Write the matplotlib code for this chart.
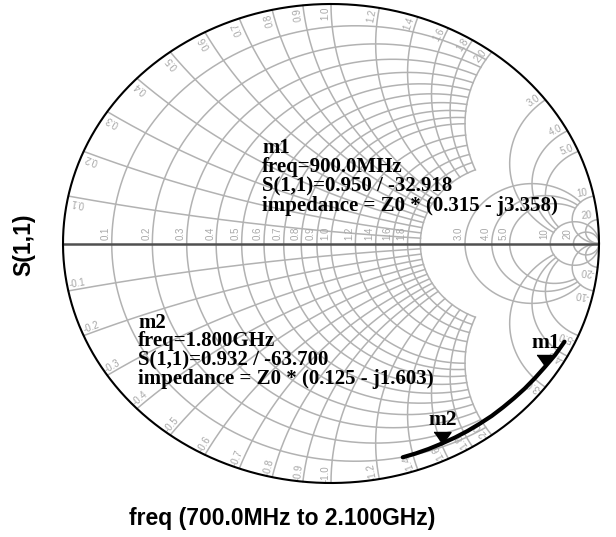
import numpy as np
import matplotlib.pyplot as plt
from matplotlib.transforms import offset_copy

W, H = 616, 537

# S(1,1) sweep, 700 MHz .. 2.1 GHz (magnitude, angle in degrees)
freq_ghz = [0.7, 0.8, 0.9, 1.0, 1.1, 1.2, 1.3, 1.4, 1.5, 1.6, 1.7, 1.8, 1.9, 2.0, 2.1]
s11_mag = [0.963, 0.957, 0.950, 0.946, 0.943, 0.940, 0.938, 0.937, 0.935,
           0.934, 0.933, 0.932, 0.932, 0.932, 0.932]
s11_deg = [-25.2, -29.1, -32.918, -36.5, -40.0, -43.4, -46.8, -50.2, -53.6,
           -57.0, -60.3, -63.7, -67.0, -70.2, -73.3]

# markers
marker_names = ["m1", "m2"]
marker_freq_text = ["900.0MHz", "1.800GHz"]
marker_mag = [0.950, 0.932]
marker_deg = [-32.918, -63.700]
marker_imp = ["0.315 - j3.358", "0.125 - j1.603"]

# smith grid values and the limit up to which each group is drawn
grid_groups = [
    ([0.1, 0.2, 0.3, 0.4, 0.5, 0.6, 0.7, 0.8, 0.9, 1.0], 2.0),
    ([1.2, 1.4, 1.6, 1.8, 2.0], 2.0),
    ([3.0, 4.0, 5.0], 10.0),
    ([10.0, 20.0], np.inf),
]
r_labels = ["0.1", "0.2", "0.3", "0.4", "0.5", "0.6", "0.7", "0.8", "0.9", "1.0",
            "1.2", "1.4", "1.6", "1.8", "", "3.0", "4.0", "5.0", "10", "20"]
x_labels = ["0.1", "0.2", "0.3", "0.4", "0.5", "0.6", "0.7", "0.8", "0.9", "1.0",
            "1.2", "1.4", "1.6", "1.8", "2.0", "3.0", "4.0", "5.0", "10", "20"]

grid_color = "#b2b2b2"
label_color = "#a8a8a8"


def gamma(z):
    return (z - 1) / (z + 1)


def span(limit, n=700):
    if np.isinf(limit):
        return np.tan(np.linspace(0, np.pi / 2 - 1e-4, n))
    return np.linspace(0, limit, n)


fig = plt.figure(figsize=(W / 100, H / 100), dpi=100)
ax = fig.add_axes([63 / W, (H - 483) / H, 536 / W, 479 / H])
ax.set_xlim(-1, 1)
ax.set_ylim(-1, 1)
ax.axis("off")

# grid: resistance circles and reactance arcs
for vals, lim in grid_groups:
    for val in vals:
        xs = span(lim)
        xs = np.concatenate([-xs[::-1], xs[1:]])
        g = gamma(val + 1j * xs)
        ax.plot(g.real, g.imag, color=grid_color, lw=1.1, zorder=1)
        rs = span(lim)
        for sgn in (1, -1):
            g = gamma(rs + 1j * sgn * val)
            ax.plot(g.real, g.imag, color=grid_color, lw=1.1, zorder=1)

# outer rim and real axis
t = np.linspace(0, 2 * np.pi, 600)
ax.plot(np.cos(t), np.sin(t), color="black", lw=1.5, zorder=3, clip_on=False)
ax.plot([-1, 1], [0, 0], color="#505050", lw=1.8, zorder=2)

# labels
all_vals = [v for vals, _ in grid_groups for v in vals]
bbox = ax.get_position()
rx = bbox.width * W
ry = bbox.height * H
lab_font = dict(family="Liberation Sans", fontsize=7, color=label_color)

for val, lab in zip(all_vals, r_labels):
    if not lab:
        continue
    u = (val - 1) / (val + 1)
    tr = offset_copy(ax.transData, fig=fig, x=-6 * 0.72, y=10 * 0.72, units="points")
    ax.text(u, 0, lab, transform=tr, rotation=90, ha="center", va="center",
            rotation_mode="anchor", zorder=2, **lab_font)

rho = 0.962
delta = np.deg2rad(1.3)
for val, lab in zip(all_vals, x_labels):
    for sgn in (1, -1):
        g = gamma(1j * sgn * val)
        th = np.angle(g)
        rot = np.degrees(np.arctan2(ry * np.sin(th), rx * np.cos(th)))
        if sgn < 0:
            rot += 180
            text = "-" + lab
        else:
            text = lab
        a = th + sgn * delta
        ax.text(rho * np.cos(a), rho * np.sin(a), text, rotation=rot,
                ha="center", va="center", rotation_mode="anchor", zorder=2, **lab_font)

# trace
s11 = np.array(s11_mag) * np.exp(1j * np.deg2rad(s11_deg))
ax.plot(s11.real, s11.imag, color="black", lw=3.0, solid_capstyle="round", zorder=5)

tri = [(-8.5, 12), (8.5, 12), (0, 0)]
for name, m, d in zip(marker_names, marker_mag, marker_deg):
    g = m * np.exp(1j * np.deg2rad(d))
    ax.plot(g.real, g.imag, marker=tri, markersize=17.3, color="black",
            ls="none", zorder=6)
    tr = offset_copy(ax.transData, fig=fig, x=1.5 * 0.72, y=14 * 0.72, units="points")
    ax.text(g.real, g.imag, name, transform=tr, ha="center", va="bottom",
            family="Liberation Serif", fontweight="bold", fontsize=15.5, zorder=6)

# marker readouts
block_pos = [(262, [153, 172.3, 191.6, 210.9]), (138, [327.5, 346.3, 365.1, 383.9])]
for name, ftxt, m, d, imp, (bx, bys) in zip(marker_names, marker_freq_text, marker_mag,
                                              marker_deg, marker_imp, block_pos):
    lines = [name, "freq=" + ftxt, "S(1,1)=%.3f / %.3f" % (m, d),
             "impedance = Z0 * (" + imp + ")"]
    for line, by in zip(lines, bys):
        fig.text(bx / W, 1 - by / H, line, ha="left", va="baseline",
                 family="Liberation Serif", fontweight="bold", fontsize=15, zorder=6)

fig.text(282 / W, 1 - 519 / H, "freq (700.0MHz to 2.100GHz)", ha="center", va="center",
         family="Liberation Sans", fontweight="bold", fontsize=16.5)
fig.text(24 / W, 1 - 245 / H, "S(1,1)", ha="center", va="center", rotation=90,
         family="Liberation Sans", fontweight="bold", fontsize=16.5)

fig.savefig("out.png", dpi=100, facecolor="white")
